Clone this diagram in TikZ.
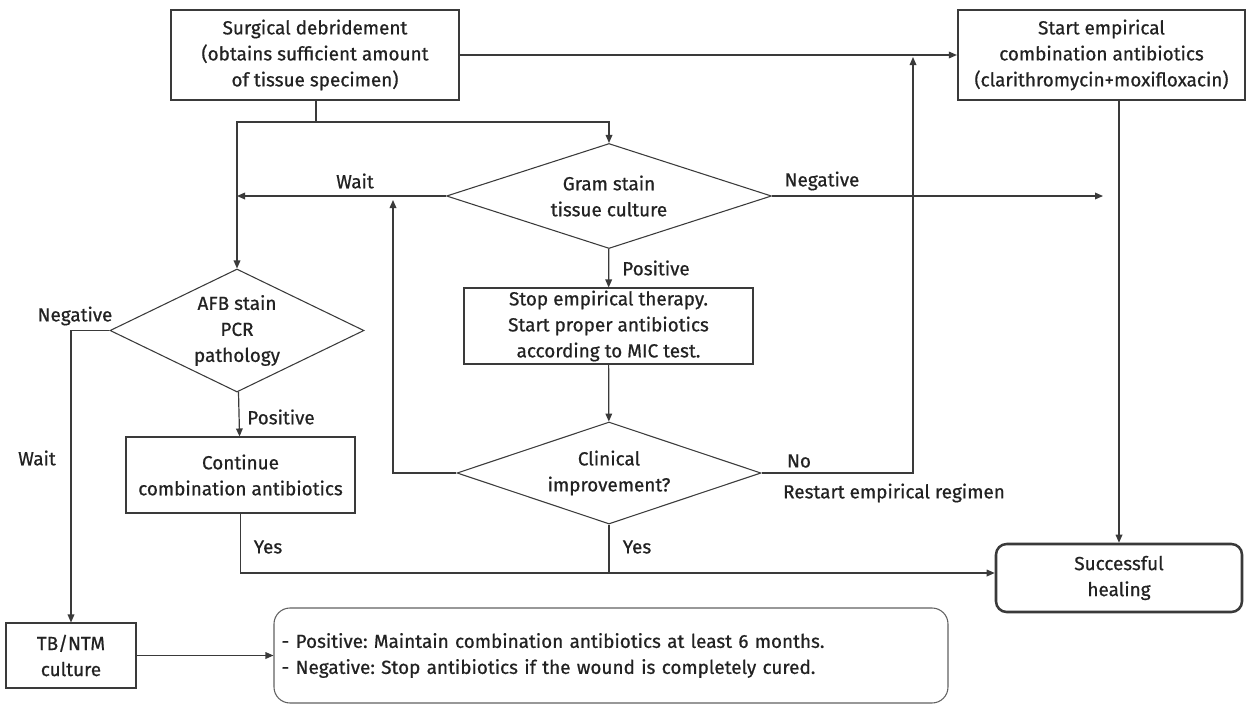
\documentclass[tikz,border=0pt]{standalone}
\usepackage{fontspec}
\setmainfont{Fira Sans}[UprightFeatures={FakeBold=0.7}]
\usetikzlibrary{shapes.geometric,arrows.meta}
\definecolor{ink}{HTML}{222222}
\definecolor{frame}{HTML}{3A3A3A}
\frenchspacing
\begin{document}
\begin{tikzpicture}[x=0.75pt, y=-0.75pt, font=\fontsize{14.2}{19.5}\selectfont, text=ink,
    main/.style={draw=frame, rectangle, align=center, inner sep=0pt},
    heavy/.style={main, line width=1.9pt},
    light/.style={main, line width=0.8pt},
    choice/.style={draw=frame, diamond, align=center, inner sep=0pt, line width=0.8pt},
    line/.style={draw=frame, line width=0.9pt},
    arr/.style={line, -{Triangle[length=6pt, width=5pt]}},
    lbl/.style={inner sep=0pt}]
    \useasboundingbox (0,0) rectangle (1250,704);

    % boxes
    \node[heavy, minimum width=216pt, minimum height=67.5pt] (surg) at (315,55) {Surgical debridement\\(obtains sufficient amount\\of tissue specimen)};
    \node[heavy, minimum width=215pt, minimum height=67.5pt] (start) at (1101.5,55) {Start empirical\\combination antibiotics\\(clarithromycin+moxifloxacin)};
    \node[choice, aspect=3.1, minimum width=243.75pt, minimum height=78.75pt] (gram) at (609,196) {Gram stain\\tissue culture};
    \node[choice, aspect=2.07, minimum width=190.5pt, minimum height=92.25pt] (afb) at (237,330.5) {AFB stain\\PCR\\pathology};
    \node[light, minimum width=216.75pt, minimum height=57pt] (stop) at (608.5,326) {Stop empirical therapy.\\Start proper antibiotics\\according to MIC test.};
    \node[light, minimum width=171.75pt, minimum height=57pt] (cont) at (240.5,475) {Continue\\combination antibiotics};
    \node[choice, aspect=2.98, minimum width=228pt, minimum height=76.5pt] (clin) at (609,473) {Clinical\\improvement?};
    \node[heavy, rounded corners=8pt, minimum width=184.5pt, minimum height=51pt] (succ) at (1119,578) {Successful\\healing};
    \node[light, minimum width=97.5pt, minimum height=48.75pt] (tb) at (71,655.5) {TB/NTM\\culture};
    \node[main, draw=frame!80, line width=0.8pt, rounded corners=12pt, align=left, minimum width=505.5pt, minimum height=71.25pt, text width=494pt] (note) at (611,655.5) {- Positive: Maintain combination antibiotics at least 6 months.\\- Negative: Stop antibiotics if the wound is completely cured.};

    % free ends
    \coordinate (split) at (316,122);
    \coordinate (back) at (393,200);
    \coordinate (restart) at (913,57);
    \coordinate (negend) at (1103,196);

    % connectors
    \draw[arr] (surg) -- (start);
    \draw[line] (surg.south -| split) -- (split);
    \draw[arr] (split) -| (gram.north);
    \draw[arr] (split) -| (afb.north);
    \draw[arr] (gram.west) -- (afb.north |- gram.west);
    \draw[arr] (gram.east) -- (negend);
    \draw[arr] (gram) -- (stop);
    \draw[arr] (stop) -- (clin);
    \draw[arr] (clin.west) -| (back);
    \draw[arr] (clin.east) -| (restart);
    \draw[arr] (succ.north |- start.south) -- (succ.north);
    \draw[arr] (afb) -- (cont);
    \draw[arr] (afb.west) -| (tb.north);
    \draw[arr] (cont.south) |- ([yshift=3.75pt]succ.west);
    \draw[line] (clin.south) -- (clin.south |- 0,573);
    \draw[arr] (tb) -- (note);

    % labels
    \node[lbl] (lwait1) at (355,181) {Wait};
    \node[lbl] (lneg1) at (822,181) {Negative};
    \node[lbl] (lpos1) at (656,268) {Positive};
    \node[lbl] (lneg2) at (75,316) {Negative};
    \node[lbl] (lwait2) at (37,458) {Wait};
    \node[lbl] (lpos2) at (281,417) {Positive};
    \node[lbl] (lyes1) at (268,547) {Yes};
    \node[lbl] (lyes2) at (637,547) {Yes};
    \node[lbl] (lno) at (799,461) {No};
    \node[lbl] (lrestart) at (894,493) {Restart empirical regimen};
\end{tikzpicture}
\end{document}
